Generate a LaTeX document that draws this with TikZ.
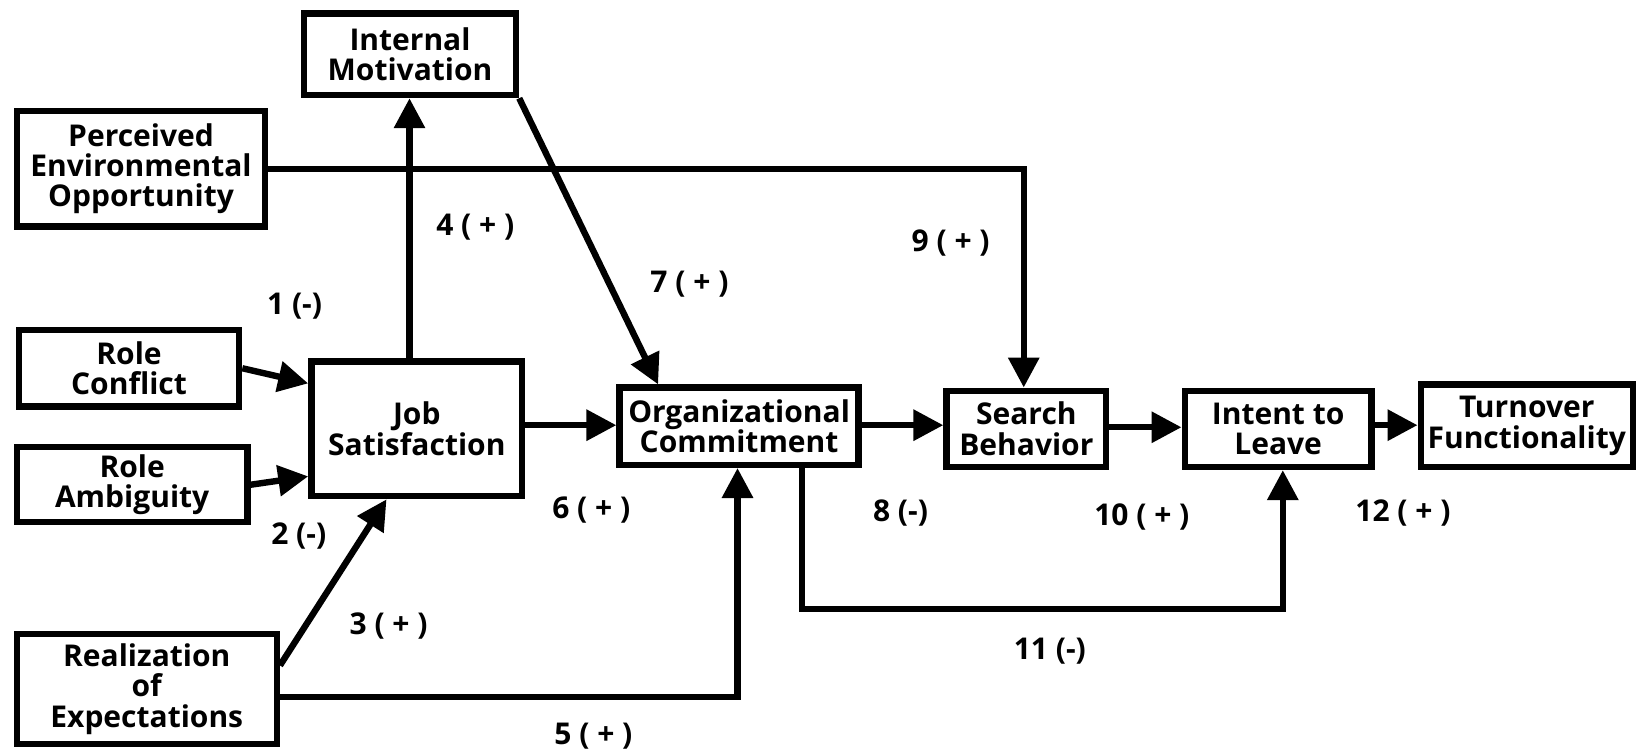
\documentclass[tikz,border=0pt]{standalone}
\usepackage{fontspec}
\setmainfont{Open Sans}
\usetikzlibrary{arrows.meta,calc}

\begin{document}
\begin{tikzpicture}[x=0.5223pt,y=-0.5223pt,
  box/.style={draw, line width=3.2pt, align=center, inner sep=0pt,
    font=\bfseries\fontsize{15}{15.2}\selectfont},
  conn/.style={line width=3.2pt, -{Triangle[length=15pt,width=15pt]}},
  wire/.style={line width=3.2pt},
  lab/.style={font=\bfseries\fontsize{15}{15}\selectfont}]
\useasboundingbox (0,0) rectangle (1568,721);

% boxes
\node[box, minimum width=106pt, minimum height=40.7pt] (im)  at (392.5,52)   {Internal\\Motivation};
\node[box, minimum width=124.2pt, minimum height=57.9pt] (peo) at (135,161.5) {Perceived\\Environmental\\Opportunity};
\node[box, minimum width=110.1pt, minimum height=38.1pt] (rc)  at (123.5,352.5) {Role\\Conflict};
\node[box, minimum width=115.4pt, minimum height=37.5pt] (ra)  at (126.5,464)  {Role\\Ambiguity};
\node[box, minimum width=130pt, minimum height=54.8pt] (re)  at (140.5,659.5) {Realization\\of\\Expectations};
\node[box, minimum width=105.4pt, minimum height=67.3pt] (js)  at (399,410.5)  {Job\\Satisfaction};
\node[box, minimum width=119.5pt, minimum height=38.6pt] (oc)  at (707.5,408)  {Organizational\\Commitment};
\node[box, minimum width=79.8pt, minimum height=38.1pt] (sb)  at (982.5,410.5) {Search\\Behavior};
\node[box, minimum width=93.4pt, minimum height=38.1pt] (il)  at (1223.5,410.5) {Intent to\\Leave};
\node[box, minimum width=106pt, minimum height=41.2pt] (tf)  at (1461.5,407.5) {Turnover\\Functionality};

% connectors
\draw[conn] (rc.east) -- (js.west |- 0,367);
\draw[conn] (ra.east) -- (js.west |- 0,456);
\draw[conn] (re.east |- 0,637) -- (js.south -| 370,0);
\draw[conn] (js.north -| 392,0) -- (im.south -| 392,0);
\draw[conn] (re.east |- 0,667) -| (oc.south -| 706,0);
\draw[conn] (js.east |- 0,407) -- (oc.west |- 0,407);
\draw[conn] (im.south east) -- (oc.north -| 630,0);
\draw[conn] (oc.east |- 0,407) -- (sb.west |- 0,407);
\draw[conn] (peo.east) -| (sb.north -| 980,0);
\draw[conn] (sb.east |- 0,409) -- (il.west |- 0,409);
\coordinate (c11) at (1228,583);
\draw[conn] (oc.south -| 768,0) |- (c11) -- (il.south -| c11);
\draw[conn] (il.east |- 0,407) -- (tf.west |- 0,407);

% path labels
\node[lab] (l1)  at (282,293)  {1 (-)};
\node[lab] (l2)  at (286,513)  {2 (-)};
\node[lab] (l3)  at (372,599)  {3 ( + )};
\node[lab] (l4)  at (455,217)  {4 ( + )};
\node[lab] (l5)  at (568,705)  {5 ( + )};
\node[lab] (l6)  at (566,488)  {6 ( + )};
\node[lab] (l7)  at (660,272)  {7 ( + )};
\node[lab] (l8)  at (862,491)  {8 (-)};
\node[lab] (l9)  at (910,233)  {9 ( + )};
\node[lab] (l10) at (1093,495) {10 ( + )};
\node[lab] (l11) at (1005,623) {11 (-)};
\node[lab] (l12) at (1343,491) {12 ( + )};
\end{tikzpicture}
\end{document}
